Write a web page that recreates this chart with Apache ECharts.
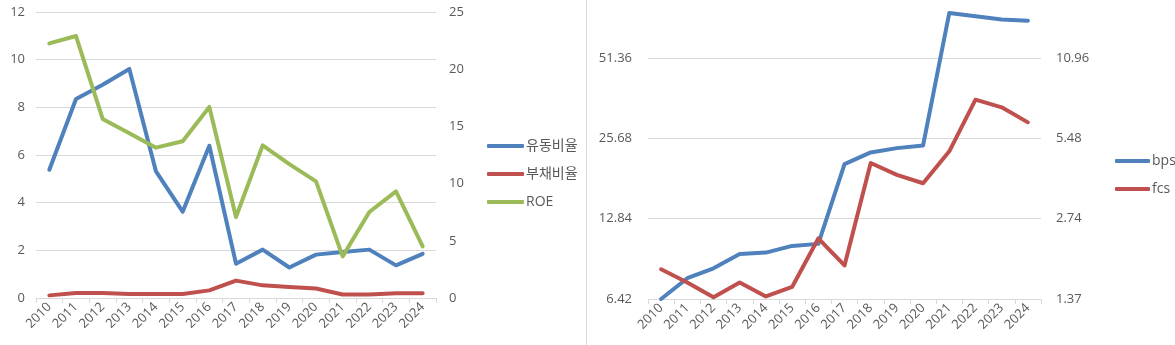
<!DOCTYPE html>
<html>
<head>
<meta charset="utf-8">
<script src="https://cdn.jsdelivr.net/npm/echarts@6/dist/echarts.min.js"></script>
<style>
  html, body { margin: 0; padding: 0; background: #ffffff; }
  #chart { width: 1175px; height: 345px; }
</style>
</head>
<body>
<div id="chart"></div>
<script>
// Fiscal years shared by both panels
const years = ['2010','2011','2012','2013','2014','2015','2016','2017','2018','2019','2020','2021','2022','2023','2024'];

// Left panel: liquidity / leverage ratios (left axis) and ROE (right axis)
const currentRatio = [5.38, 8.35, 8.95, 9.61, 5.31, 3.62, 6.39, 1.44, 2.03, 1.28, 1.82, 1.93, 2.03, 1.37, 1.85];
const debtRatio    = [0.11, 0.21, 0.21, 0.17, 0.17, 0.17, 0.32, 0.73, 0.53, 0.46, 0.40, 0.15, 0.15, 0.20, 0.20];
const roe          = [22.26, 22.9, 15.65, 14.4, 13.14, 13.7, 16.7, 7.08, 13.34, 11.7, 10.19, 3.64, 7.52, 9.32, 4.51];

// Right panel: book value per share (left log axis) and free cash flow per share (right log axis)
const bps = [6.42, 7.68, 8.37, 9.47, 9.58, 10.15, 10.33, 20.57, 22.74, 23.6, 24.16, 75.8, 73.6, 71.6, 70.9];
const fcs = [1.77, 1.58, 1.39, 1.58, 1.40, 1.52, 2.31, 1.83, 4.43, 4.00, 3.72, 4.90, 7.65, 7.16, 6.29];

// Tick values of the doubling (base-2 log) axes
const bpsTicks = [6.42, 12.84, 25.68, 51.36];
const fcsTicks = [1.37, 2.74, 5.48, 10.96];

const BLUE = '#4F81BD', RED = '#C0504D', GREEN = '#9BBB59';
const AXIS_GREY = '#d9d9d9', TEXT_GREY = '#595959';
const FONT = "'Open Sans', 'Noto Sans CJK KR', sans-serif";
const LOG_SPAN = 11.9; // axis top relative to the lowest tick (about 3.57 doublings)

function catAxis(gridIndex) {
  return {
    type: 'category', gridIndex, data: years, boundaryGap: true,
    axisLine: { show: true, lineStyle: { color: AXIS_GREY, width: 1 } },
    axisTick: { show: true, interval: 0, length: 5, lineStyle: { color: AXIS_GREY } },
    axisLabel: { interval: 0, rotate: 45, margin: 7, color: TEXT_GREY, fontSize: 13, fontFamily: FONT },
    splitLine: { show: false }
  };
}

function lineSeries(name, data, color, xAxisIndex, yAxisIndex) {
  return {
    name, type: 'line', data, xAxisIndex, yAxisIndex,
    symbol: 'none', smooth: false, animation: false,
    lineStyle: { color, width: 4, cap: 'round', join: 'round' },
    itemStyle: { color }
  };
}

const valLabel = { color: TEXT_GREY, fontSize: 13, fontFamily: FONT };

const option = {
  backgroundColor: '#ffffff',
  animation: false,
  grid: [
    { left: 36, top: 12, width: 400, height: 286 },
    { left: 648, top: 12, width: 393, height: 287 }
  ],
  xAxis: [catAxis(0), catAxis(1)],
  yAxis: [
    {
      type: 'value', gridIndex: 0, min: 0, max: 12, interval: 2, position: 'left',
      axisLine: { show: false }, axisTick: { show: false },
      axisLabel: Object.assign({ margin: 11 }, valLabel),
      splitLine: { show: true, lineStyle: { color: AXIS_GREY, width: 1 } }
    },
    {
      type: 'value', gridIndex: 0, min: 0, max: 25, interval: 5, position: 'right',
      axisLine: { show: false }, axisTick: { show: false },
      axisLabel: Object.assign({ margin: 13 }, valLabel),
      splitLine: { show: false }
    },
    {
      type: 'log', logBase: 2, gridIndex: 1, position: 'left',
      min: bpsTicks[0], max: bpsTicks[0] * LOG_SPAN,
      axisLine: { show: false },
      axisTick: { show: false, customValues: bpsTicks },
      axisLabel: Object.assign({ margin: 16, customValues: bpsTicks, formatter: v => Number(v).toFixed(2) }, valLabel),
      splitLine: { show: true, customValues: bpsTicks, lineStyle: { color: AXIS_GREY, width: 1 } }
    },
    {
      type: 'log', logBase: 2, gridIndex: 1, position: 'right',
      min: fcsTicks[0], max: fcsTicks[0] * LOG_SPAN,
      axisLine: { show: false },
      axisTick: { show: false, customValues: fcsTicks },
      axisLabel: Object.assign({ margin: 15, customValues: fcsTicks, formatter: v => Number(v).toFixed(2) }, valLabel),
      splitLine: { show: false }
    }
  ],
  legend: [
    {
      orient: 'vertical', left: 482, top: 133, itemGap: 12,
      icon: 'roundRect', itemWidth: 37, itemHeight: 4,
      textStyle: { color: TEXT_GREY, fontSize: 14, lineHeight: 16, fontFamily: FONT, padding: [0, 0, 0, -3] },
      data: ['유동비율', '부채비율', 'ROE']
    },
    {
      orient: 'vertical', left: 1110, top: 148, itemGap: 12,
      icon: 'roundRect', itemWidth: 35, itemHeight: 4,
      textStyle: { color: TEXT_GREY, fontSize: 14, lineHeight: 16, fontFamily: FONT, padding: [0, 0, 0, -3] },
      data: ['bps', 'fcs']
    }
  ],
  graphic: [
    {
      type: 'line', silent: true,
      shape: { x1: 586.5, y1: 0, x2: 586.5, y2: 345 },
      style: { stroke: AXIS_GREY, lineWidth: 1 }
    }
  ],
  series: [
    lineSeries('유동비율', currentRatio, BLUE, 0, 0),
    lineSeries('부채비율', debtRatio, RED, 0, 0),
    lineSeries('ROE', roe, GREEN, 0, 1),
    lineSeries('bps', bps, BLUE, 1, 2),
    lineSeries('fcs', fcs, RED, 1, 3)
  ]
};

const chart = echarts.init(document.getElementById('chart'), null, { renderer: 'canvas' });
chart.setOption(option);
</script>
</body>
</html>
